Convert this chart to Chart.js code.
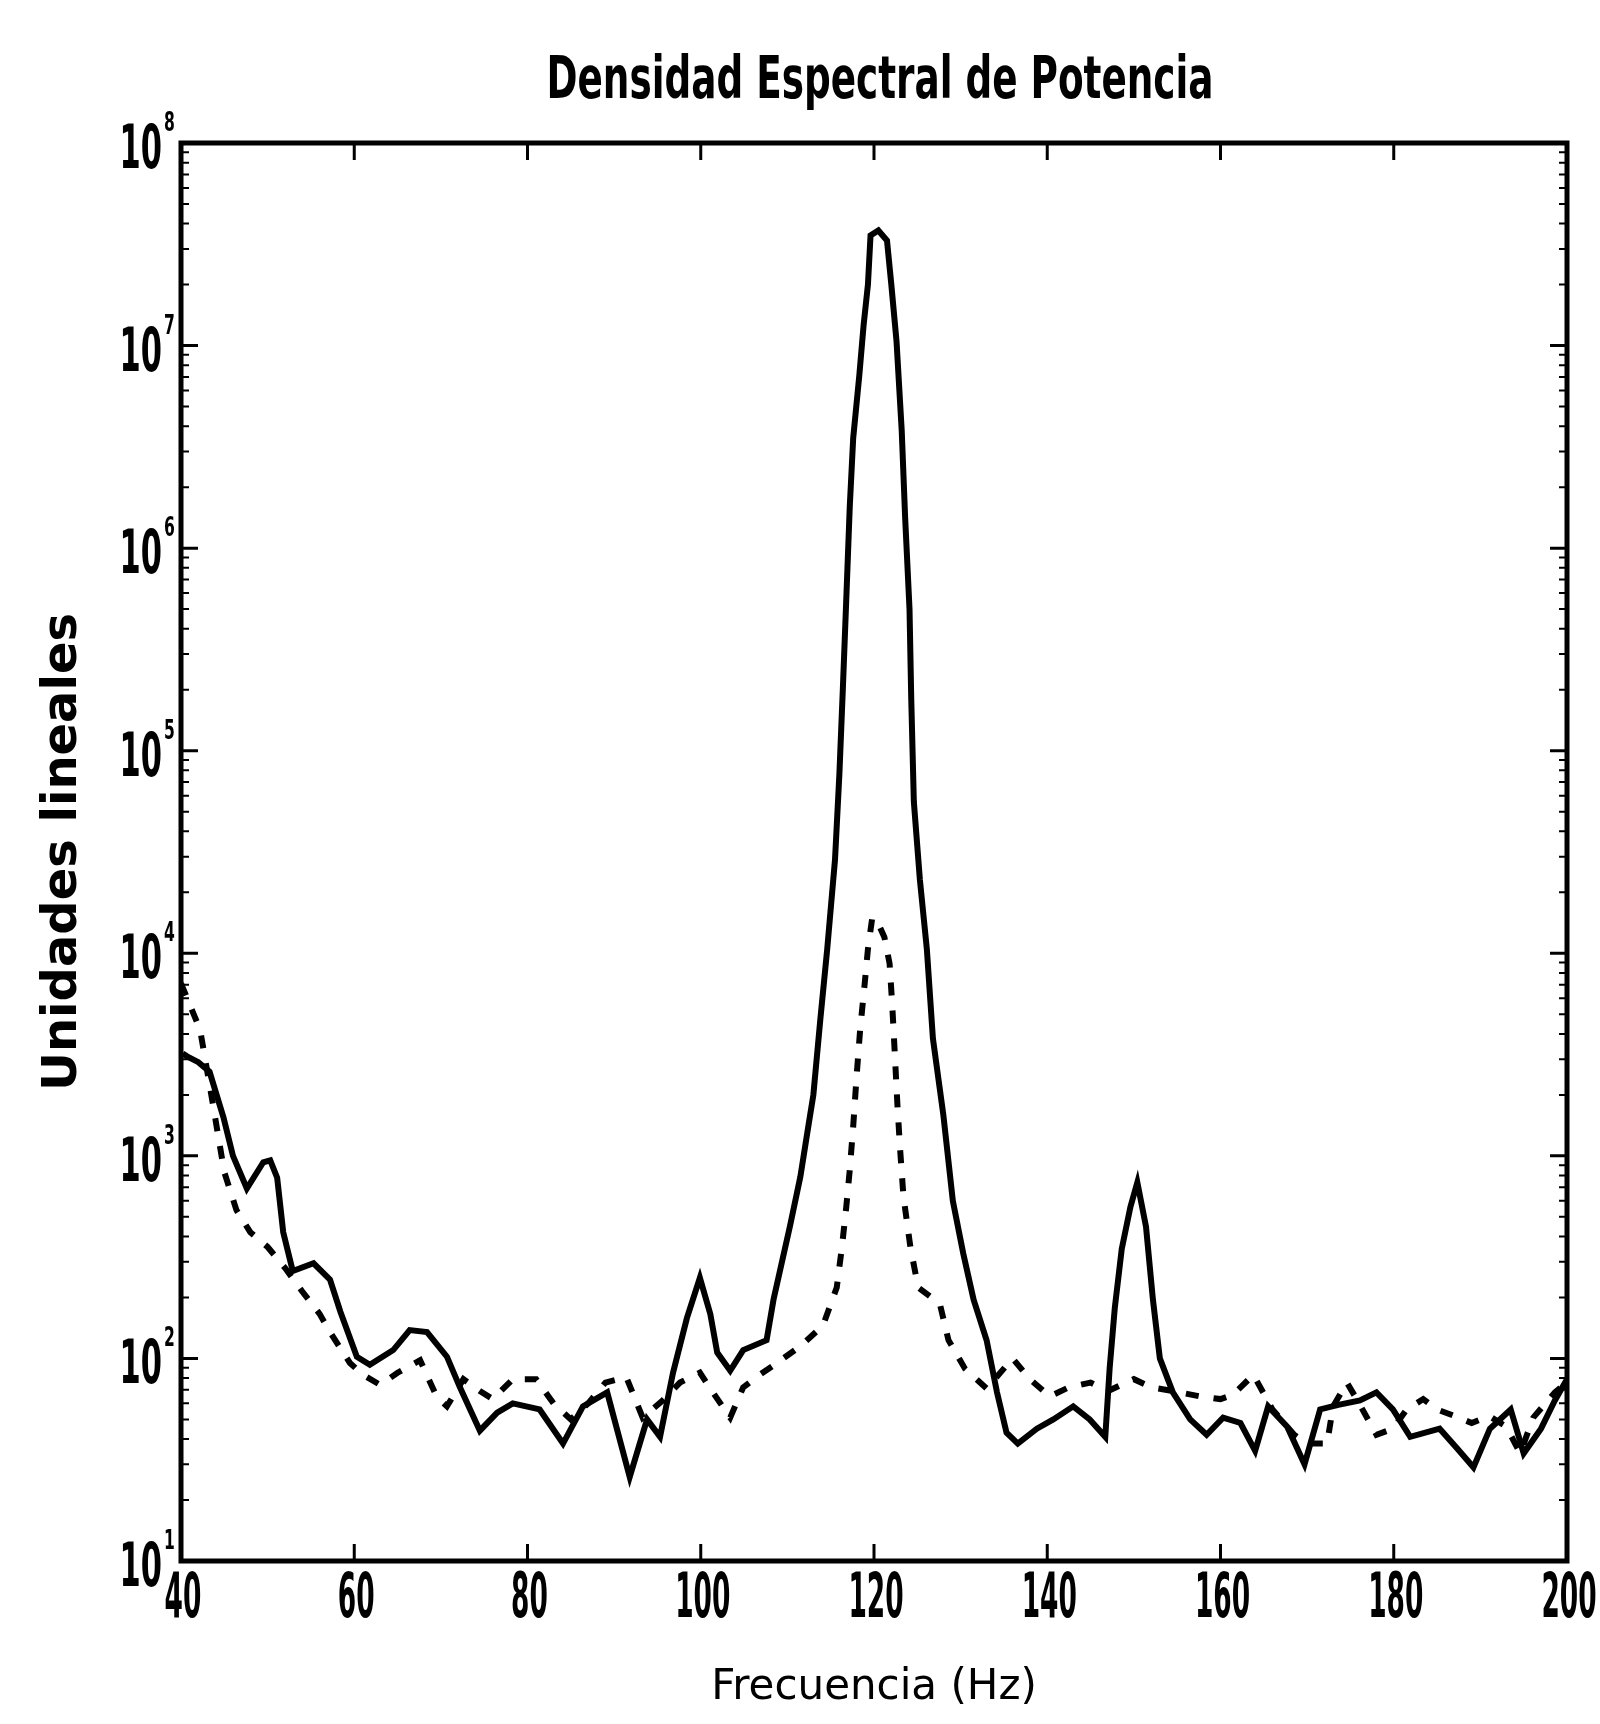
<!DOCTYPE html>
<html>
<head>
<meta charset="utf-8">
<title>Densidad Espectral de Potencia</title>
<script src="https://cdn.jsdelivr.net/npm/chart.js@4.4.1/dist/chart.umd.min.js"></script>
<style>
  html, body { margin: 0; padding: 0; background: #fff; }
  #wrap { width: 1600px; height: 1724px; }
</style>
</head>
<body>
<div id="wrap"><canvas id="psdChart"></canvas></div>
<script>
// solid trace
const solidFreq = [40.2, 40.7, 42.0, 43.3, 44.9, 46.0, 47.6, 49.5, 50.3, 51.1, 51.8, 52.9, 55.3, 57.2, 58.4,
  60.3, 61.8, 64.5, 66.4, 68.4, 70.7, 72.2, 74.5, 76.5, 78.3, 81.4, 84.1, 86.4, 89.2, 91.8, 93.8, 95.3,
  96.8, 98.4, 99.9, 101.1, 101.9, 103.4, 104.9, 107.6, 108.4, 110.3, 111.5, 112.3, 113.0, 113.8, 114.6,
  115.5, 116.0, 116.4, 116.8, 117.2, 117.6, 118.3, 118.8, 119.3, 119.6, 120.5, 121.5, 122.0, 122.6,
  123.2, 123.6, 124.1, 124.3, 124.6, 125.3, 126.1, 126.8, 128.0, 129.1, 130.3, 131.5, 133.0, 134.2,
  135.3, 136.6, 138.8, 140.7, 143.0, 144.9, 146.7, 147.2, 147.8, 148.6, 149.6, 150.4, 151.4, 152.2,
  153.0, 154.5, 156.5, 158.4, 160.3, 162.3, 164.0, 165.5, 167.7, 169.7, 171.5, 173.6, 176.1, 178.0,
  179.9, 181.9, 185.3, 187.3, 189.2, 191.1, 193.5, 195.0, 197.0, 198.6, 200.0];
const solidPsd = [3.2e3, 3.1e3, 2.9e3, 2.6e3, 1.55e3, 1.0e3, 690, 930, 950, 780, 420, 270, 295, 245, 170,
  102, 93, 110, 138, 135, 102, 72, 44, 54, 60, 56, 38, 58, 68, 26, 50, 41,
  85, 158, 250, 166, 107, 87, 110, 123, 195, 450, 790, 1.3e3, 2.0e3, 4.7e3, 1.05e4,
  2.9e4, 7.6e4, 2.0e5, 5.6e5, 1.6e6, 3.5e6, 7.1e6, 1.26e7, 2.0e7, 3.5e7, 3.7e7, 3.3e7, 2.0e7, 1.05e7,
  3.8e6, 1.4e6, 5.0e5, 1.8e5, 5.6e4, 2.3e4, 1.05e4, 3.8e3, 1.6e3, 600, 330, 195, 123, 68,
  43, 38, 45, 50, 58, 50, 41, 89, 178, 347, 560, 740, 447, 195,
  100, 68, 50, 42, 51, 48, 35, 58, 46, 30, 56, 59, 62, 68,
  56, 41, 45, 36, 29, 45, 56, 34, 45, 62, 79];

// dashed trace
const dashedFreq = [40.0, 41.0, 42.2, 43.5, 45.0, 46.4, 48.0, 50.0, 52.0, 54.0, 56.0, 57.2, 59.5, 61.0,
  63.0, 65.0, 67.6, 69.5, 70.7, 72.6, 74.5, 76.0, 78.3, 81.0, 83.0, 85.0, 87.0, 89.0, 91.4, 93.3, 95.6,
  97.6, 99.9, 101.0, 103.4, 104.9, 106.8, 108.8, 111.5, 114.1, 115.7, 116.3, 116.8, 117.2, 117.6, 118.0,
  118.4, 118.9, 119.3, 119.8, 120.5, 121.2, 121.8, 122.1, 122.4, 122.7, 123.0, 123.4, 124.2, 125.1,
  127.6, 128.6, 130.5, 133.0, 136.0, 138.0, 140.3, 142.5, 145.0, 147.0, 150.0, 152.0, 154.5, 157.6,
  160.0, 161.4, 163.8, 166.0, 168.5, 170.0, 172.3, 173.0, 174.6, 176.0, 178.0, 179.9, 181.5, 183.4,
  185.0, 187.0, 189.0, 191.0, 193.0, 194.6, 196.1, 198.6, 200.0];
const dashedPsd = [7.1e3, 5.6e3, 4.2e3, 2.0e3, 830, 540, 420, 355, 280, 214, 166, 135, 95, 83,
  74, 85, 98, 65, 58, 79, 69, 63, 79, 79, 60, 50, 60, 76, 81, 51, 62,
  76, 85, 72, 51, 72, 83, 95, 115, 145, 224, 355, 560, 850, 1.4e3, 2.5e3,
  4.2e3, 6.9e3, 1.05e4, 1.5e4, 1.4e4, 1.2e4, 8.9e3, 5.6e3, 3.2e3, 1.8e3, 1.1e3, 630, 355, 224,
  186, 123, 89, 71, 100, 79, 65, 72, 76, 69, 79, 72, 69, 65,
  63, 66, 83, 56, 42, 38, 38, 58, 76, 60, 42, 45, 56, 63,
  56, 52, 48, 52, 46, 34, 51, 68, 76];

const xTickValues = [40, 60, 80, 100, 120, 140, 160, 180, 200];
const xTickLabels = ["40", "60", "80", "100", "120", "140", "160", "180", "200"];
const yTickValues = [1e1, 1e2, 1e3, 1e4, 1e5, 1e6, 1e7, 1e8];
const yTickBase = "10";
const yTickExp = ["1", "2", "3", "4", "5", "6", "7", "8"];

const chartTitle = "Densidad Espectral de Potencia";
const sans = "'DejaVu Sans', 'Liberation Sans', sans-serif";

function toPoints(xs, ys) {
  return xs.map((f, i) => ({ x: f, y: ys[i] }));
}

// squeezed text, the scanned figure uses a very narrow bold face
function narrowText(ctx, text, x, y, font, sx, align) {
  ctx.save();
  ctx.font = font;
  ctx.textAlign = align;
  ctx.textBaseline = "alphabetic";
  ctx.translate(x, y);
  ctx.scale(sx, 1);
  ctx.fillText(text, 0, 0);
  ctx.restore();
}

// inward ticks on all four sides plus the box, like the matlab axes
const frameTicks = {
  id: "frameTicks",
  afterDatasetsDraw(chart) {
    const { ctx, chartArea: a, scales: { x, y } } = chart;
    ctx.save();
    ctx.strokeStyle = "#000";
    ctx.lineWidth = 3;
    ctx.beginPath();
    xTickValues.forEach(v => {
      const px = x.getPixelForValue(v);
      ctx.moveTo(px, a.bottom); ctx.lineTo(px, a.bottom - 17);
      ctx.moveTo(px, a.top); ctx.lineTo(px, a.top + 17);
    });
    yTickValues.forEach(v => {
      const py = y.getPixelForValue(v);
      ctx.moveTo(a.left, py); ctx.lineTo(a.left + 17, py);
      ctx.moveTo(a.right, py); ctx.lineTo(a.right - 17, py);
    });
    ctx.stroke();
    ctx.lineWidth = 2;
    ctx.beginPath();
    yTickValues.slice(0, -1).forEach(v => {
      for (let m = 2; m < 10; m++) {
        const pm = y.getPixelForValue(v * m);
        ctx.moveTo(a.left, pm); ctx.lineTo(a.left + 8, pm);
        ctx.moveTo(a.right, pm); ctx.lineTo(a.right - 8, pm);
      }
    });
    ctx.stroke();
    ctx.lineWidth = 5;
    ctx.strokeRect(a.left, a.top, a.width, a.height);
    ctx.restore();
  }
};

// title and tick labels
const textLayer = {
  id: "textLayer",
  afterDraw(chart) {
    const { ctx, chartArea: a, scales: { x, y } } = chart;
    ctx.save();
    ctx.fillStyle = "#000";

    const titleFont = "bold 58px " + sans;
    ctx.font = titleFont;
    const sxTitle = 667 / ctx.measureText(chartTitle).width;
    narrowText(ctx, chartTitle, (a.left + a.right) / 2 + 6, 98, titleFont, sxTitle, "center");

    xTickValues.forEach((v, i) => {
      const px = x.getPixelForValue(v);
      narrowText(ctx, xTickLabels[i], px + 2, a.bottom + 56, "bold 63px " + sans, 0.42, "center");
    });

    yTickValues.forEach((v, i) => {
      const py = y.getPixelForValue(v);
      narrowText(ctx, yTickBase, a.left - 19, py + 25, "bold 61px " + sans, 0.5, "right");
      narrowText(ctx, yTickExp[i], a.left - 17, py - 12, "bold 26px " + sans, 0.6, "left");
    });
    ctx.restore();
  }
};

const ctx = document.getElementById("psdChart").getContext("2d");

const psdChart = new Chart(ctx, {
  type: "line",
  data: {
    datasets: [
      {
        label: "PSD 1",
        data: toPoints(solidFreq, solidPsd),
        borderColor: "#000",
        borderWidth: 6,
        pointRadius: 0,
        tension: 0,
        fill: false
      },
      {
        label: "PSD 2",
        data: toPoints(dashedFreq, dashedPsd),
        borderColor: "#000",
        borderWidth: 6,
        borderDash: [13, 15],
        pointRadius: 0,
        tension: 0,
        fill: false
      }
    ]
  },
  options: {
    responsive: true,
    maintainAspectRatio: false,
    animation: false,
    layout: {
      padding: { left: 0, right: 33, top: 143, bottom: 0 }
    },
    plugins: {
      legend: { display: false },
      tooltip: { enabled: false },
      title: { display: false }
    },
    scales: {
      x: {
        type: "linear",
        min: 40,
        max: 200,
        afterBuildTicks: scale => {
          scale.ticks = xTickValues.map(v => ({ value: v }));
        },
        afterFit: scale => {
          scale.height = 163;
          scale.paddingLeft = 0;
          scale.paddingRight = 0;
        },
        ticks: { display: false },
        grid: { display: false, drawTicks: false },
        border: { display: false },
        title: {
          display: true,
          text: "Frecuencia (Hz)",
          color: "#000",
          font: { family: sans, size: 42, lineHeight: 1.2 },
          padding: { top: 0, bottom: 11 }
        }
      },
      y: {
        type: "logarithmic",
        min: 10,
        max: 1e8,
        afterBuildTicks: scale => {
          scale.ticks = yTickValues.map(v => ({ value: v }));
        },
        afterFit: scale => {
          scale.width = 181;
          scale.paddingTop = 0;
          scale.paddingBottom = 0;
        },
        ticks: { display: false },
        grid: { display: false, drawTicks: false },
        border: { display: false },
        title: {
          display: true,
          text: "Unidades lineales",
          color: "#000",
          font: { family: sans, size: 48, weight: "bold", lineHeight: 1.2 },
          padding: { top: 35, bottom: 0 }
        }
      }
    }
  },
  plugins: [frameTicks, textLayer]
});
</script>
</body>
</html>
